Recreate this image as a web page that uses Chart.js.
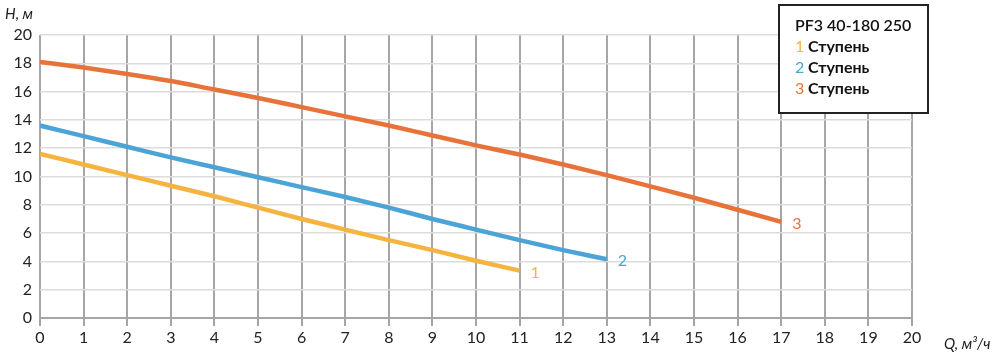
<!DOCTYPE html>
<html><head><meta charset="utf-8">
<script src="https://cdn.jsdelivr.net/npm/chart.js@4/dist/chart.umd.min.js"></script>
<style>html,body{margin:0;padding:0;background:#fff}#wrap{width:1000px;height:357px}</style>
</head><body><div id="wrap"><canvas id="c"></canvas></div>
<script>
const flow = [0,1,2,3,4,5,6,7,8,9,10,11,12,13,14,15,16,17];
const stage1 = [11.6,10.85,10.1,9.35,8.6,7.8,7.0,6.25,5.5,4.8,4.05,3.35];
const stage2 = [13.6,12.85,12.1,11.35,10.65,9.95,9.25,8.55,7.8,7.0,6.25,5.5,4.8,4.15];
const stage3 = [18.1,17.7,17.25,16.75,16.15,15.55,14.9,14.25,13.6,12.9,12.2,11.55,10.85,10.1,9.3,8.5,7.65,6.8];
const stageNames = ['1','2','3'];
const legendTitle = 'PF3 40-180 250';
const legendWord = 'Ступень';
const colors = ['#F5B43F','#4BA3D6','#E8733A'];
const FONT = 'Lato, "Open Sans", sans-serif';

function pts(v){return v.map((y,i)=>({x:flow[i],y:y}));}

const endLabels = {
  id:'endLabels',
  afterDatasetsDraw(chart){
    const ctx=chart.ctx;
    chart.data.datasets.forEach((ds,i)=>{
      const meta=chart.getDatasetMeta(i);
      const p=meta.data[meta.data.length-1];
      ctx.save();
      ctx.fillStyle=colors[i];
      ctx.font='16px '+FONT;
      ctx.textBaseline='middle';
      ctx.fillText(stageNames[i],p.x+11,p.y+2);
      ctx.restore();
    });
    ctx.save();
    ctx.fillStyle='#222';
    ctx.font='italic 15px '+FONT;
    ctx.textBaseline='middle';
    ctx.fillText('H, м',5,14);
    ctx.fillText('Q, м³/ч',944,344);
    ctx.restore();
    ctx.save();
    ctx.fillStyle='#fff';
    ctx.fillRect(779,5,149,108);
    ctx.strokeStyle='#222';
    ctx.lineWidth=2;
    ctx.strokeRect(779,5,149,108);
    ctx.textBaseline='middle';
    ctx.fillStyle='#111';
    ctx.font='600 16px '+FONT;
    ctx.fillText(legendTitle,795,26);
    for(let i=0;i<3;i++){
      const y=47+i*21;
      ctx.fillStyle=colors[i];
      ctx.font='16px '+FONT;
      ctx.fillText(stageNames[i],795,y);
      ctx.fillStyle='#111';
      ctx.font='bold 16px '+FONT;
      ctx.fillText(legendWord,808,y);
    }
    ctx.restore();
  }
};

const lineOpts = {borderWidth:4.5,pointRadius:0,cubicInterpolationMode:'monotone',fill:false};
new Chart(document.getElementById('c'),{
  type:'line',
  data:{datasets:[
    Object.assign({data:pts(stage1),borderColor:colors[0]},lineOpts),
    Object.assign({data:pts(stage2),borderColor:colors[1]},lineOpts),
    Object.assign({data:pts(stage3),borderColor:colors[2]},lineOpts)
  ]},
  options:{
    responsive:true,maintainAspectRatio:false,animation:false,
    layout:{padding:{top:35,right:88,left:0,bottom:0}},
    plugins:{legend:{display:false},tooltip:{enabled:false}},
    scales:{
      x:{type:'linear',min:0,max:20,
        ticks:{stepSize:1,color:'#222',font:{family:FONT,size:16},padding:2},
        grid:{color:'#a6a6a6',lineWidth:2,tickLength:8,tickColor:'#a6a6a6'},
        border:{color:'#a6a6a6',width:2},
        afterFit(s){s.height=39;}
      },
      y:{min:0,max:20,
        ticks:{stepSize:2,color:'#222',font:{family:FONT,size:16},padding:8},
        grid:{color:'#dcdcdc',lineWidth:1.5,drawTicks:false},
        border:{display:false},
        afterFit(s){s.width=40;}
      }
    }
  },
  plugins:[endLabels]
});
</script></body></html>
